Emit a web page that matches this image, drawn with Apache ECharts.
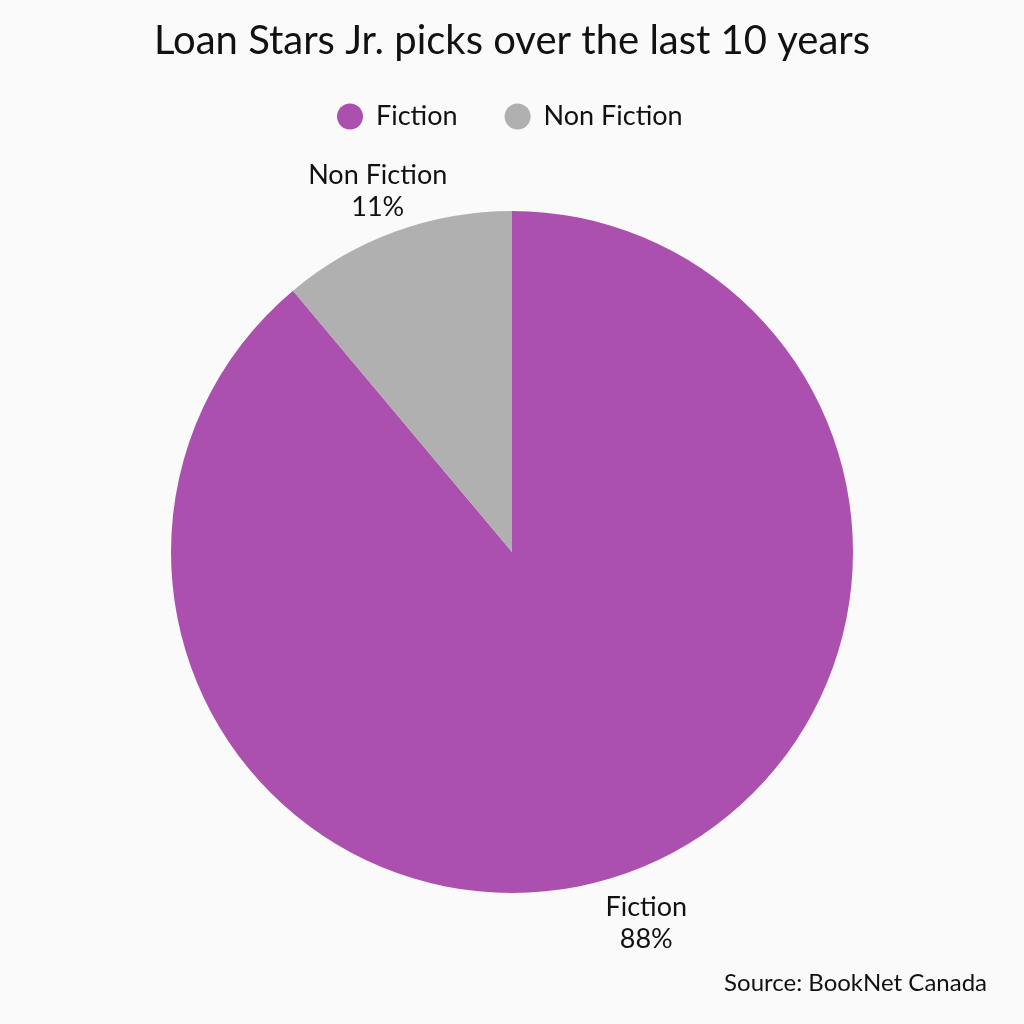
<!DOCTYPE html>
<html>
<head>
<meta charset="utf-8">
<script src="https://cdn.jsdelivr.net/npm/echarts@6/dist/echarts.min.js"></script>
<style>html,body{margin:0;padding:0;background:#fafafa;}#c{width:1024px;height:1024px;}</style>
</head>
<body>
<div id="c"></div>
<script>
const categories = ["Fiction", "Non Fiction"];
const values = [88.9, 11.1];
const percentLabels = ["88%", "11%"];
const colors = ["#ab50ae", "#b0b0b0"];

const chart = echarts.init(document.getElementById('c'));
const data = categories.map((c, i) => ({ name: c, value: values[i] }));
const labelOffsets = [[0, 2], [0, 9]];
const labelData = categories.map((c, i) => ({ name: c, value: values[i], label: { offset: labelOffsets[i] } }));
const font = 'Lato';
chart.setOption({
  backgroundColor: '#fafafa',
  color: colors,
  title: {
    text: 'Loan Stars Jr. picks over the last 10 years',
    left: 'center', top: 16,
    textStyle: { fontFamily: font, fontSize: 40, fontWeight: 'normal', color: '#111' }
  },
  legend: {
    data: categories,
    top: 98, left: 332,
    icon: 'circle', itemWidth: 26, itemHeight: 26, itemGap: 47,
    textStyle: { fontFamily: font, fontSize: 27, color: '#111', padding: [0, 0, 0, 8] }
  },
  graphic: [{
    type: 'text', right: 37, top: 971,
    style: { text: 'Source: BookNet Canada', font: '24px Lato', fill: '#111' }
  }],
  series: [{
    type: 'pie',
    center: [512, 552], radius: [0, 341],
    startAngle: 90, clockwise: true,
    silent: true,
    label: { show: false }, labelLine: { show: false },
    data: data
  }, {
    type: 'pie',
    center: [512, 552], radius: [378, 402],
    startAngle: 90, clockwise: true,
    silent: true,
    itemStyle: { color: 'rgba(0,0,0,0)' },
    label: {
      show: true, position: 'inside',
      fontFamily: font, fontSize: 27, color: '#111', lineHeight: 32,
      formatter: p => p.name + '\n' + percentLabels[p.dataIndex]
    },
    labelLine: { show: false },
    data: labelData
  }]
});
</script>
</body>
</html>
